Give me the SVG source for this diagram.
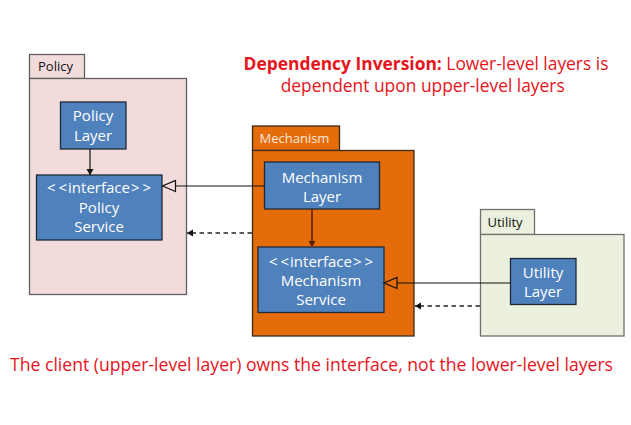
<svg xmlns="http://www.w3.org/2000/svg" width="631" height="425" viewBox="0 0 631 425">
<defs>
<style>
text { font-family: "Open Sans", "Noto Sans", sans-serif; }
.box { fill: #4f81bd; stroke: #1f2a36; stroke-width: 1.3; }
.bt { fill: #ffffff; font-size: 15px; text-anchor: middle; }
.tabt { font-size: 13px; fill: #111111; }
.red { fill: #e8141c; font-size: 17.4px; }
.solid { stroke: #111111; stroke-width: 1.2; fill: none; }
.dash { stroke: #5a5a5a; stroke-width: 1.8; stroke-dasharray: 4.5 3.5; fill: none; }
</style>
<marker id="tri" markerUnits="userSpaceOnUse" markerWidth="16" markerHeight="14" refX="0.5" refY="6.5" orient="auto" overflow="visible">
<path d="M0.5,1 L13.5,6.5 L0.5,12 Z" fill="none" stroke="#111111" stroke-width="1.2"/>
</marker>
<marker id="arr" markerUnits="userSpaceOnUse" markerWidth="8" markerHeight="8" refX="6" refY="3.5" orient="auto">
<path d="M0,0 L6,3.5 L0,7 Z" fill="#111111"/>
</marker>
<marker id="arrb" markerUnits="userSpaceOnUse" markerWidth="8" markerHeight="8" refX="6" refY="3.5" orient="auto">
<path d="M0,0 L6,3.5 L0,7 Z" fill="#5a1f00"/>
</marker>
</defs>
<rect width="631" height="425" fill="#ffffff"/>

<g id="policy-package">
<rect x="29.5" y="54.5" width="55" height="24" fill="#f2dcdb" stroke="#5f5f5f" stroke-width="1.3"/>
<rect x="29.5" y="78.5" width="157" height="216" fill="#f2dcdb" stroke="#5f5f5f" stroke-width="1.3"/>
<text class="tabt" x="38" y="71">Policy</text>
</g>
<g id="mechanism-package">
<rect x="252.5" y="126" width="87" height="24.5" fill="#e46c0a" stroke="#3a2a1a" stroke-width="1.3"/>
<rect x="252.5" y="150.5" width="161.5" height="185.5" fill="#e46c0a" stroke="#3a2a1a" stroke-width="1.3"/>
<text class="tabt" x="259.5" y="143" style="fill:#fde9d9">Mechanism</text>
</g>
<g id="utility-package">
<rect x="480.5" y="209.5" width="54" height="25" fill="#ebf1de" stroke="#6f6f6f" stroke-width="1.3"/>
<rect x="480.5" y="234.5" width="143.5" height="101.5" fill="#ebf1de" stroke="#6f6f6f" stroke-width="1.3"/>
<text class="tabt" x="487.5" y="227">Utility</text>
</g>

<g id="policy-layer">
<rect class="box" x="60.5" y="102" width="65.5" height="47"/>
<text class="bt" x="93" y="121">Policy</text>
<text class="bt" x="93" y="141">Layer</text>
</g>
<g id="policy-service">
<rect class="box" x="36.5" y="175" width="125.5" height="65"/>
<text class="bt" x="99" y="193">&lt;<tspan dx="3">&lt;</tspan><tspan dx="1">interface</tspan><tspan dx="1">&gt;</tspan><tspan dx="3">&gt;</tspan></text>
<text class="bt" x="99" y="213">Policy</text>
<text class="bt" x="99" y="232">Service</text>
</g>
<g id="mechanism-layer">
<rect class="box" x="264.5" y="162" width="115" height="47"/>
<text class="bt" x="322" y="183">Mechanism</text>
<text class="bt" x="322" y="202">Layer</text>
</g>
<g id="mechanism-service">
<rect class="box" x="258" y="247" width="126" height="65.5"/>
<text class="bt" x="321" y="267">&lt;<tspan dx="3">&lt;</tspan><tspan dx="1">interface</tspan><tspan dx="1">&gt;</tspan><tspan dx="3">&gt;</tspan></text>
<text class="bt" x="321" y="286">Mechanism</text>
<text class="bt" x="321" y="305">Service</text>
</g>
<g id="utility-layer">
<rect class="box" x="510.5" y="258.5" width="65.5" height="46"/>
<text class="bt" x="543" y="278">Utility</text>
<text class="bt" x="543" y="297">Layer</text>
</g>

<g id="connectors">
<line class="solid" x1="90" y1="149" x2="90" y2="175" marker-end="url(#arr)"/>
<line class="solid" x1="264.5" y1="186" x2="175.5" y2="186" marker-end="url(#tri)"/>
<line class="dash" x1="252" y1="233" x2="187" y2="233" marker-end="url(#arr)"/>
<line x1="312" y1="209" x2="312" y2="247" stroke="#5a1f00" stroke-width="1.5" marker-end="url(#arrb)"/>
<line class="solid" x1="510.5" y1="283" x2="397" y2="283" marker-end="url(#tri)"/>
<line class="dash" x1="480" y1="306" x2="415" y2="306" marker-end="url(#arr)"/>
</g>

<g id="title">
<text class="red" x="426" y="70" text-anchor="middle"><tspan font-weight="bold">Dependency Inversion:</tspan> Lower-level layers is</text>
<text class="red" x="425" y="92" text-anchor="middle">dependent upon upper-level layers<tspan fill="#f7e9a8">.</tspan></text>
</g>
<text class="red" x="10" y="371" style="font-size:18px" textLength="603" lengthAdjust="spacingAndGlyphs">The client (upper-level layer) owns the interface, not the lower-level layers</text>
</svg>
